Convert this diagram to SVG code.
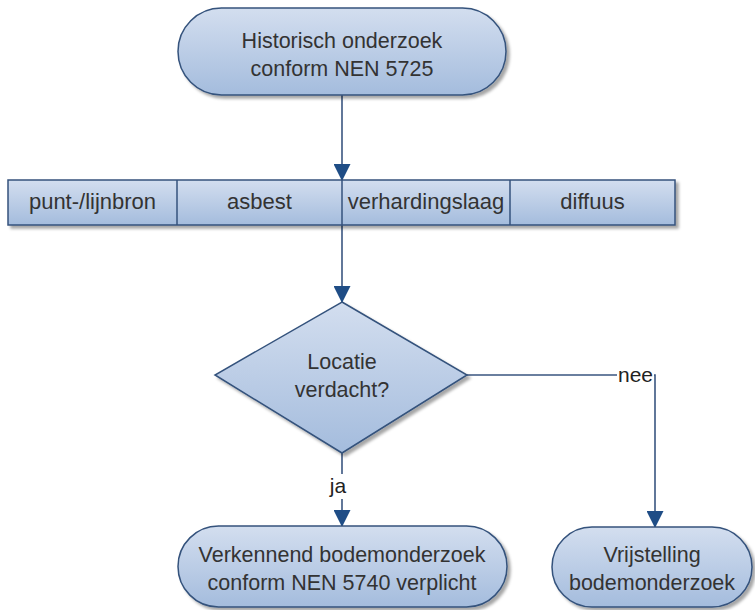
<svg xmlns="http://www.w3.org/2000/svg" width="755" height="610" viewBox="0 0 755 610">
<defs>
<linearGradient id="g" x1="0" y1="0" x2="0" y2="1">
<stop offset="0" stop-color="#d3deef"/>
<stop offset="1" stop-color="#a4bcdd"/>
</linearGradient>
<filter id="sh" x="-10%" y="-10%" width="125%" height="130%">
<feDropShadow dx="3" dy="3" stdDeviation="1.5" flood-color="#000" flood-opacity="0.35"/>
</filter>
<marker id="ar" markerWidth="17" markerHeight="17" refX="16" refY="8.5" orient="auto" markerUnits="userSpaceOnUse" viewBox="0 0 17 17">
<path d="M0,0 L17,8.5 L0,17 Z" fill="#1f4d86"/>
</marker>
<style>
.shape{fill:url(#g);stroke:#34527c;stroke-width:1.5;filter:url(#sh)}
.t{font-family:"Liberation Sans",Arial,sans-serif;font-size:21.5px;fill:#333;text-anchor:middle}
.b{font-size:22px}
.c{fill:none;stroke:#3a5680;stroke-width:1.6}
.lbl{font-family:"Liberation Sans",Arial,sans-serif;font-size:21px;fill:#222;text-anchor:middle}
</style>
</defs>
<g id="connectors">
<path class="c" d="M342,95 V180" marker-end="url(#ar)"/>
<path class="c" d="M342,225 V302" marker-end="url(#ar)"/>
<path class="c" d="M342,453 V526" marker-end="url(#ar)"/>
<path class="c" d="M467,375 H655 V527" marker-end="url(#ar)"/>
<rect x="327" y="474" width="22" height="25" fill="#fff"/>
<text class="lbl" x="338" y="493">ja</text>
<rect x="617" y="366" width="37" height="20" fill="#fff"/>
<text class="lbl" x="635.5" y="382">nee</text>
</g>
<g id="start">
<rect class="shape" x="178" y="8" width="328" height="87" rx="43.5"/>
<text class="t" x="342" y="48">Historisch onderzoek</text>
<text class="t" x="342" y="76">conform NEN 5725</text>
</g>
<g id="bronnen">
<rect class="shape" x="8" y="180" width="667" height="45"/>
<line x1="177" y1="180" x2="177" y2="225" stroke="#34527c" stroke-width="1.5"/>
<line x1="342" y1="180" x2="342" y2="225" stroke="#34527c" stroke-width="1.5"/>
<line x1="510" y1="180" x2="510" y2="225" stroke="#34527c" stroke-width="1.5"/>
<text class="t b" x="92.5" y="209">punt-/lijnbron</text>
<text class="t b" x="259.5" y="209">asbest</text>
<text class="t b" x="426" y="209">verhardingslaag</text>
<text class="t b" x="592.5" y="209">diffuus</text>
</g>
<g id="beslissing">
<polygon class="shape" points="342,302 467,375 342,453 215,375"/>
<text class="t" x="342" y="369">Locatie</text>
<text class="t" x="342" y="397">verdacht?</text>
</g>
<g id="verkennend">
<rect class="shape" x="178" y="526" width="329" height="81" rx="40.5"/>
<text class="t" x="342" y="562">Verkennend bodemonderzoek</text>
<text class="t" x="342" y="590">conform NEN 5740 verplicht</text>
</g>
<g id="vrijstelling">
<rect class="shape" x="552" y="527" width="200" height="80" rx="40"/>
<text class="t" x="652" y="562">Vrijstelling</text>
<text class="t" x="652" y="590">bodemonderzoek</text>
</g>
</svg>
